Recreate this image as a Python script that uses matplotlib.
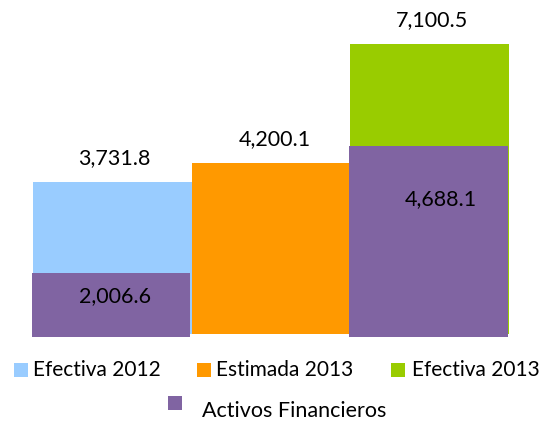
import matplotlib
matplotlib.use("Agg")
import matplotlib.pyplot as plt
from matplotlib.patches import Rectangle

# ---- data ----
categories = ["Efectiva 2012", "Estimada 2013", "Efectiva 2013"]
totals = [3731.8, 4200.1, 7100.5]
activos = [2006.6, None, 4688.1]
series_colors = ["#99CCFF", "#FF9900", "#99CC00"]
activos_label = "Activos Financieros"
activos_color = "#8064A2"

plt.rcParams['font.family'] = ['Lato', 'DejaVu Sans']

W, H = 544, 422
fig = plt.figure(figsize=(W / 100, H / 100), dpi=100)

def fx(px):
    return px / W

def fy(py):
    return 1 - py / H

# primary axes (totals): baseline at 334 px, top at 10 px
ax = fig.add_axes([fx(33), fy(334), fx(476), (334 - 10) / H])
ax.set_xlim(-0.5, 2.5)
ax.set_ylim(0, 7940)
ax.axis("off")

# secondary axes (activos): own scale
ax2 = fig.add_axes([fx(31.5), fy(336.5), fx(476), (336.5 - 10) / H])
ax2.set_xlim(-0.5, 2.5)
ax2.set_ylim(666, 7560)
ax2.axis("off")

x = list(range(len(categories)))
ax.bar(x, totals, width=1.0, color=series_colors, linewidth=0)

ax_x = [i for i, v in enumerate(activos) if v is not None]
ax_v = [v for v in activos if v is not None]
ax2.bar(ax_x, ax_v, width=1.0, color=activos_color, linewidth=0)

def fmt(v):
    return f"{v:,.1f}"

lbl_dx = [1.5, 3.5, 2.5]
for i, v in enumerate(totals):
    ax.annotate(fmt(v), (x[i], v), xytext=(lbl_dx[i] * 0.72, 24 * 0.72),
                textcoords="offset points", ha="center", va="center",
                fontsize=15.5, color="#000000")

in_dy = [23, 53]
in_dx = [4, 12.5]
for j, (i, v) in enumerate(zip(ax_x, ax_v)):
    ax2.annotate(fmt(v), (i, v), xytext=(in_dx[j] * 0.72, -in_dy[j] * 0.72),
                 textcoords="offset points", ha="center", va="center",
                 fontsize=15.5, color="#000000")

# ---- legend (manual) ----
leg_items = [(14, 370, series_colors[0], categories[0], 33),
             (197, 370, series_colors[1], categories[1], 216),
             (391, 370, series_colors[2], categories[2], 412)]
sq = 13.5
for sx, cy, col, lab, tx in leg_items:
    fig.patches.append(Rectangle((fx(sx), fy(cy + sq / 2)), fx(sq), sq / H,
                                 transform=fig.transFigure, color=col, linewidth=0))
    fig.text(fx(tx), fy(cy), lab, ha="left", va="center", fontsize=15)

fig.patches.append(Rectangle((fx(168), fy(403 + sq / 2)), fx(sq), sq / H,
                             transform=fig.transFigure, color=activos_color, linewidth=0))
fig.text(fx(202), fy(411), activos_label, ha="left", va="center", fontsize=15.5)

fig.savefig("out.png", dpi=100)
